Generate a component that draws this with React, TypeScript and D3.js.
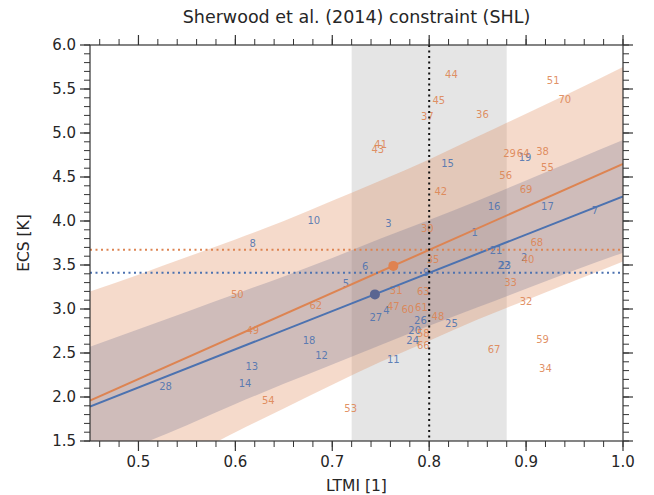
import React from 'react';
import * as d3 from 'd3';

// ---- data ----
const title = 'Sherwood et al. (2014) constraint (SHL)';
const xLabel = 'LTMI [1]';
const yLabel = 'ECS [K]';

const xTicks = [0.5, 0.6, 0.7, 0.8, 0.9, 1.0];
const yTicks = [1.5, 2.0, 2.5, 3.0, 3.5, 4.0, 4.5, 5.0, 5.5, 6.0];

const obsX = 0.8;
const obsRange = [0.72, 0.88];
const blueAtObs = 3.411;
const orangeAtObs = 3.672;

const lineX = [0.45, 1.0];
const blueLineY = [1.89, 4.28];
const orangeLineY = [1.96, 4.65];

const blueMean = [0.744, 3.166];
const orangeMean = [0.763, 3.49];

const bandX = [0.45, 0.5, 0.55, 0.6, 0.65, 0.7, 0.75, 0.8, 0.85, 0.9, 0.95, 1.0];
const blueLower = [1.21, 1.45, 1.68, 1.92, 2.15, 2.37, 2.59, 2.81, 3.02, 3.23, 3.44, 3.64];
const blueUpper = [2.57, 2.77, 2.97, 3.17, 3.37, 3.58, 3.8, 4.01, 4.23, 4.46, 4.69, 4.92];
const orangeLower = [0.72, 1.02, 1.31, 1.6, 1.87, 2.14, 2.4, 2.64, 2.88, 3.1, 3.32, 3.54];
const orangeUpper = [3.2, 3.39, 3.59, 3.79, 4.0, 4.23, 4.46, 4.7, 4.96, 5.22, 5.48, 5.75];

const blueIds = ['1', '2', '3', '4', '5', '6', '7', '8', '9', '10', '11', '12', '13', '14', '15', '16', '17', '18', '19', '20', '21', '22', '23', '24', '25', '26', '27', '28'];
const blueX = [0.847, 0.898, 0.758, 0.756, 0.714, 0.734, 0.971, 0.618, 0.797, 0.681, 0.763, 0.689, 0.617, 0.610, 0.819, 0.867, 0.922, 0.676, 0.899, 0.785, 0.869, 0.877, 0.878, 0.783, 0.823, 0.791, 0.745, 0.528];
const blueY = [3.87, 3.59, 3.97, 2.98, 3.29, 3.48, 4.125, 3.74, 3.42, 4.01, 2.43, 2.477, 2.344, 2.148, 4.655, 4.17, 4.17, 2.64, 4.72, 2.76, 3.67, 3.5, 3.5, 2.64, 2.837, 2.867, 2.905, 2.117];

const orangeIds = ['29', '30', '31', '32', '33', '34', '35', '36', '37', '38', '40', '41', '42', '43', '44', '45', '47', '48', '49', '50', '51', '53', '54', '55', '56', '58', '59', '60', '61', '62', '63', '64', '66', '67', '68', '69', '70'];
const orangeX = [0.883, 0.798, 0.766, 0.9, 0.884, 0.92, 0.804, 0.855, 0.798, 0.917, 0.902, 0.75, 0.812, 0.747, 0.823, 0.81, 0.763, 0.809, 0.618, 0.602, 0.928, 0.719, 0.634, 0.922, 0.879, 0.794, 0.917, 0.778, 0.792, 0.683, 0.794, 0.897, 0.794, 0.867, 0.911, 0.9, 0.94];
const orangeY = [4.77, 3.917, 3.205, 3.083, 3.3, 2.326, 3.557, 5.21, 5.193, 4.795, 3.565, 4.875, 4.333, 4.815, 5.667, 5.364, 3.034, 2.92, 2.76, 3.16, 5.594, 1.872, 1.958, 4.606, 4.52, 2.724, 2.648, 3.0, 3.02, 3.04, 3.197, 4.77, 2.58, 2.542, 3.76, 4.36, 5.383];

// ---- styling ----
const W = 654;
const H = 495;
const M = { left: 90, right: 623, top: 45, bottom: 441 };
const BLUE = '#4c72b0';
const ORANGE = '#dd8452';
const TXT = '#262626';
const FONT = 'DejaVu Sans, sans-serif';

export default function App() {
  const x = d3.scaleLinear().domain([0.45, 1.0]).range([M.left, M.right]);
  const y = d3.scaleLinear().domain([1.5, 6.0]).range([M.bottom, M.top]);

  const area = (lo: number[], hi: number[]) =>
    d3
      .area<number>()
      .x((_, i) => x(bandX[i]))
      .y0((_, i) => y(lo[i]))
      .y1((_, i) => y(hi[i]))
      .curve(d3.curveMonotoneX)(bandX) || '';

  const line = (ys: number[]) =>
    d3
      .line<number>()
      .x((_, i) => x(lineX[i]))
      .y((d) => y(d))(ys) || '';

  const xMinor = d3.range(0.46, 1.0001, 0.02);
  const yMinor = d3.range(1.5, 6.0001, 0.1);

  return (
    <svg
      width={W}
      height={H}
      style={{ position: 'absolute', left: 0, top: 0, background: '#fff' }}
      fontFamily={FONT}
    >
      <defs>
        <clipPath id="plot">
          <rect x={M.left} y={M.top} width={M.right - M.left} height={M.bottom - M.top} />
        </clipPath>
      </defs>

      <g clipPath="url(#plot)">
        <rect
          x={x(obsRange[0])}
          y={M.top}
          width={x(obsRange[1]) - x(obsRange[0])}
          height={M.bottom - M.top}
          fill="#000"
          fillOpacity={0.1}
        />
        <path d={area(blueLower, blueUpper)} fill={BLUE} fillOpacity={0.3} />
        <path d={area(orangeLower, orangeUpper)} fill={ORANGE} fillOpacity={0.3} />

        {blueIds.map((t, i) => (
          <text
            key={'b' + t}
            x={x(blueX[i])}
            y={y(blueY[i])}
            fill={BLUE}
            fillOpacity={0.9}
            fontSize={10}
            textAnchor="middle"
            dominantBaseline="central"
          >
            {t}
          </text>
        ))}
        {orangeIds.map((t, i) => (
          <text
            key={'o' + t}
            x={x(orangeX[i])}
            y={y(orangeY[i])}
            fill={ORANGE}
            fillOpacity={0.9}
            fontSize={10}
            textAnchor="middle"
            dominantBaseline="central"
          >
            {t}
          </text>
        ))}

        <path d={line(blueLineY)} stroke={BLUE} strokeWidth={2} fill="none" />
        <path d={line(orangeLineY)} stroke={ORANGE} strokeWidth={2} fill="none" />

        <line
          x1={M.left}
          x2={M.right}
          y1={y(orangeAtObs)}
          y2={y(orangeAtObs)}
          stroke={ORANGE}
          strokeWidth={2}
          strokeDasharray="2,3.5"
        />
        <line
          x1={M.left}
          x2={M.right}
          y1={y(blueAtObs)}
          y2={y(blueAtObs)}
          stroke={BLUE}
          strokeWidth={2}
          strokeDasharray="2,3.5"
        />
        <line
          x1={x(obsX)}
          x2={x(obsX)}
          y1={M.top}
          y2={M.bottom}
          stroke="#111"
          strokeWidth={2}
          strokeDasharray="2,3.5"
        />

        <circle cx={x(blueMean[0])} cy={y(blueMean[1])} r={5} fill="#5a6591" />
        <circle cx={x(orangeMean[0])} cy={y(orangeMean[1])} r={5} fill="#df8250" />
      </g>

      {/* frame */}
      <rect
        x={M.left}
        y={M.top}
        width={M.right - M.left}
        height={M.bottom - M.top}
        fill="none"
        stroke="#333"
        strokeWidth={1.2}
      />

      {/* x ticks bottom and top */}
      {xMinor.map((v) => (
        <g key={'xm' + v}>
          <line x1={x(v)} x2={x(v)} y1={M.bottom} y2={M.bottom + 6} stroke="#333" strokeWidth={1} />
          <line x1={x(v)} x2={x(v)} y1={M.top} y2={M.top - 6} stroke="#333" strokeWidth={1} />
        </g>
      ))}
      {xTicks.map((v) => (
        <g key={'xt' + v}>
          <line x1={x(v)} x2={x(v)} y1={M.bottom} y2={M.bottom + 10} stroke="#333" strokeWidth={1.2} />
          <line x1={x(v)} x2={x(v)} y1={M.top} y2={M.top - 10} stroke="#333" strokeWidth={1.2} />
          <text x={x(v)} y={M.bottom + 26} fontSize={15} fill={TXT} textAnchor="middle">
            {d3.format('.1f')(v)}
          </text>
        </g>
      ))}

      {/* y ticks left and right */}
      {yMinor.map((v) => (
        <g key={'ym' + v}>
          <line x1={M.left} x2={M.left - 6} y1={y(v)} y2={y(v)} stroke="#333" strokeWidth={1} />
          <line x1={M.right} x2={M.right + 6} y1={y(v)} y2={y(v)} stroke="#333" strokeWidth={1} />
        </g>
      ))}
      {yTicks.map((v) => (
        <g key={'yt' + v}>
          <line x1={M.left} x2={M.left - 10} y1={y(v)} y2={y(v)} stroke="#333" strokeWidth={1.2} />
          <line x1={M.right} x2={M.right + 10} y1={y(v)} y2={y(v)} stroke="#333" strokeWidth={1.2} />
          <text
            x={M.left - 14}
            y={y(v)}
            fontSize={15}
            fill={TXT}
            textAnchor="end"
            dominantBaseline="central"
          >
            {d3.format('.1f')(v)}
          </text>
        </g>
      ))}

      <text x={(M.left + M.right) / 2} y={491} fontSize={15.5} fill={TXT} textAnchor="middle">
        {xLabel}
      </text>
      <text
        transform={`translate(29, ${(M.top + M.bottom) / 2}) rotate(-90)`}
        fontSize={15.5}
        fill={TXT}
        textAnchor="middle"
      >
        {yLabel}
      </text>
      <text x={(M.left + M.right) / 2} y={23} fontSize={17.5} fill={TXT} textAnchor="middle">
        {title}
      </text>
    </svg>
  );
}
